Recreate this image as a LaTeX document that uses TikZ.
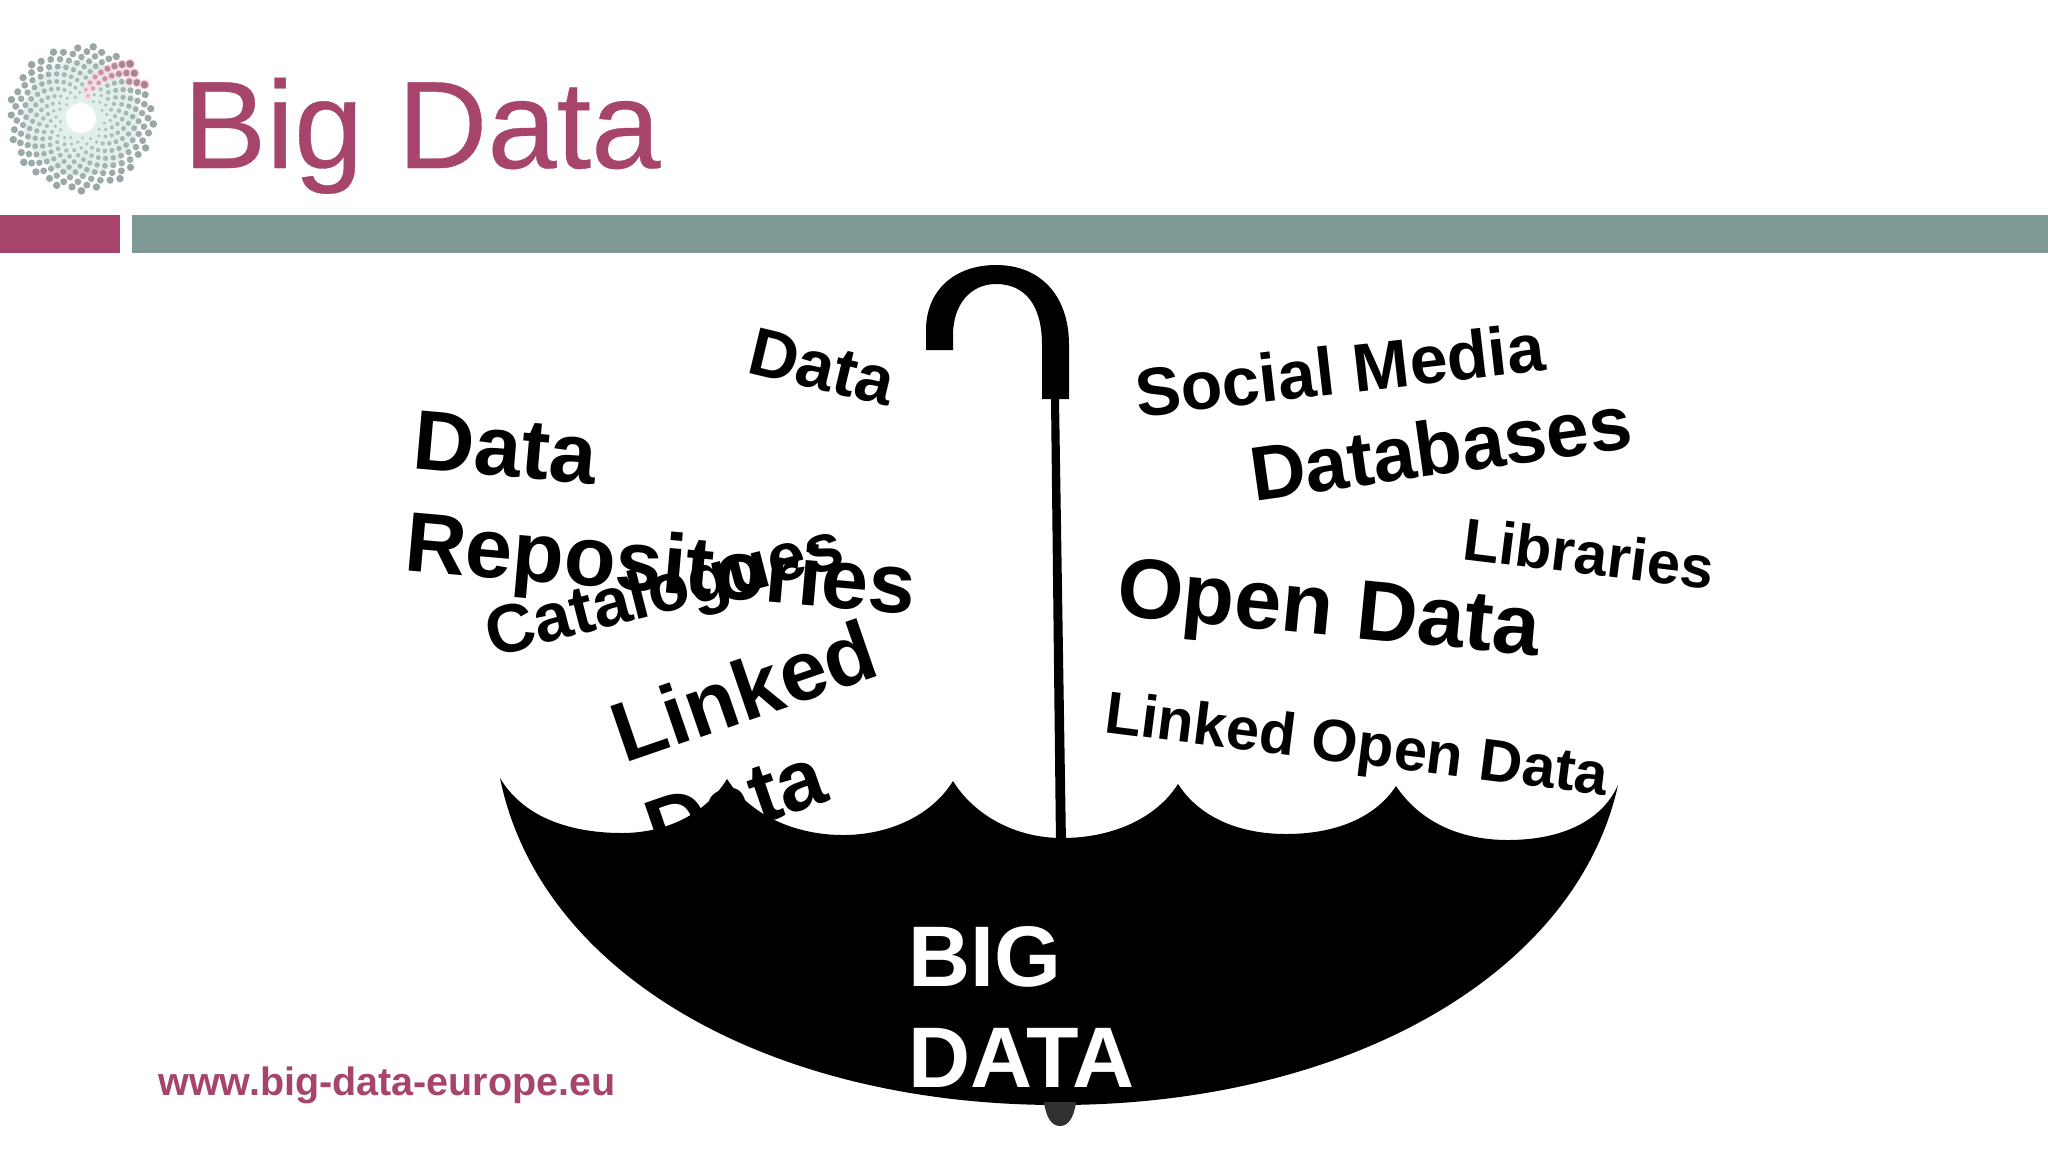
\documentclass[tikz,border=0pt]{standalone}
\usepackage{fontspec}
\setmainfont{Liberation Sans}
\definecolor{brandrose}{HTML}{A6446C}
\definecolor{brandteal}{HTML}{7F9996}
\definecolor{logoout}{HTML}{98A5A6}
\definecolor{logoin}{HTML}{B4CAC6}
\definecolor{logopink}{HTML}{EDA9C0}
\definecolor{logodeep}{HTML}{A3828F}
\definecolor{logohalo}{HTML}{F6D5DF}
\definecolor{logowash}{HTML}{E3EFEC}
\definecolor{ferrule}{HTML}{333033}
\tikzset{
  word/.style={anchor=base west,inner sep=0pt,outer sep=0pt,align=left,text=black},
  bigw/.style={word,font=\bfseries\fontsize{42.3}{51}\selectfont},
  midw/.style={word,font=\bfseries\fontsize{38.4}{46}\selectfont},
  smallw/.style={word,font=\bfseries\fontsize{34}{40}\selectfont},
  tinyw/.style={word,font=\bfseries\fontsize{29.8}{36}\selectfont},
}
\begin{document}
\begin{tikzpicture}[x=0.5pt,y=-0.5pt]
\useasboundingbox (0,0) rectangle (2048,1152);
\fill[white] (0,0) rectangle (2048,1152);
% logo
\fill[logowash] (81,118) circle[radius=58];
\foreach \n in {1,...,270}{
  \pgfmathsetmacro\rr{19+54*pow(\n/270,0.8)}
  \pgfmathsetmacro\aa{mod(\n*0.381966,1)*360}
  \pgfmathsetmacro\ds{1.7+2.1*\n/270}
  \pgfmathtruncatemacro\mx{100*pow(\n/270,0.7)}
  \pgfmathtruncatemacro\isw{abs(\aa-(80-(\rr-20)*0.75))<(7+0.15*(\rr-20))?1:0}
  \ifnum\isw=1
    \fill[logohalo] ({81+\rr*cos(\aa)},{118-\rr*sin(\aa)}) circle[radius=\ds+1.5];
    \fill[logodeep!\mx!logopink] ({81+\rr*cos(\aa)},{118-\rr*sin(\aa)}) circle[radius=\ds];
  \else
    \fill[logoout!\mx!logoin] ({81+\rr*cos(\aa)},{118-\rr*sin(\aa)}) circle[radius=\ds];
  \fi
}
\fill[white] (81,118) circle[radius=15];
% title and bars
\node[anchor=base west,inner sep=0pt,text=brandrose,font=\addfontfeature{FakeBold=0.3}\fontsize{62.2}{70}\selectfont] (title) at (183,168) {Big Data};
\fill[brandrose] (0,215) rectangle (120,253);
\fill[brandteal] (132,215) rectangle (2048,253);
% words
\node[smallw,rotate=-13.5] (w1) at (745,372) {Data};
\node[bigw,rotate=-5] (w2) at (403,570) {Data\\Repositories};
\node[smallw,rotate=14.4] (w3) at (492,657) {Catalogues};
\node[bigw,rotate=19] (w4) at (658,860) {Linked\\Data};
\node[smallw,rotate=6.5] (w5) at (1138,417) {Social Media};
\node[midw,rotate=8] (w6) at (1254,501) {Databases};
\node[tinyw,rotate=-7] (w7) at (1461,559) {Libraries};
\node[word,font=\bfseries\fontsize{42.4}{51}\selectfont,rotate=-5.5] (w8) at (1115,615) {Open Data};
\node[tinyw,rotate=-7.2] (w9) at (1103,732) {Linked Open Data};
% umbrella
\fill[black] (500,778)
  .. controls (525,820) and (575,833) .. (622,833)
  .. controls (665,833) and (705,815) .. (727,779)
  .. controls (750,815) and (795,835) .. (843,835)
  .. controls (890,835) and (932,815) .. (953,781)
  .. controls (974,815) and (1015,838) .. (1062,838)
  .. controls (1110,838) and (1155,820) .. (1178,784)
  .. controls (1200,818) and (1240,834) .. (1286,834)
  .. controls (1335,834) and (1375,818) .. (1396,786)
  .. controls (1420,822) and (1460,840) .. (1508,840)
  .. controls (1555,840) and (1600,825) .. (1618,785)
  .. controls (1576,975) and (1346,1105) .. (1058,1105)
  .. controls (770,1105) and (540,975) .. (500,778) -- cycle;
\fill[ferrule] (1044,1102) .. controls (1046,1118) and (1052,1126) .. (1060,1126)
  .. controls (1068,1126) and (1074,1118) .. (1076,1102) -- cycle;
\fill[black] (1051,399) -- (1059,399) -- (1066,845) -- (1056,845) -- cycle;
\fill[black] (926,350) -- (926,330)
  .. controls (926,290) and (955,265) .. (996,265)
  .. controls (1040,265) and (1069,295) .. (1069,345)
  -- (1069,399) -- (1042,399) -- (1042,345)
  .. controls (1042,305) and (1025,284) .. (996,284)
  .. controls (970,284) and (953,305) .. (953,335)
  -- (953,350) -- cycle;
\node[anchor=north west,inner sep=0pt,align=left,text=white,font=\bfseries\fontsize{43}{50.5}\selectfont] (bd) at (908,926) {BIG\\DATA};
\node[anchor=base west,inner sep=0pt,text=brandrose,font=\bfseries\fontsize{19.75}{24}\selectfont] (url) at (158,1095) {www.big-data-europe.eu};
\end{tikzpicture}
\end{document}
